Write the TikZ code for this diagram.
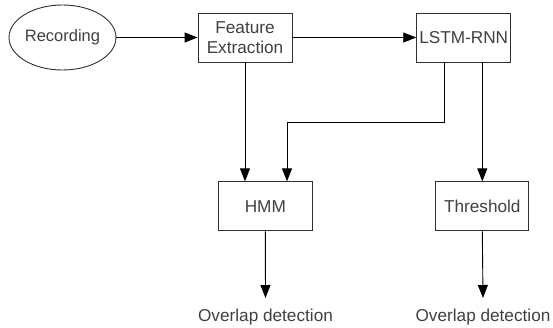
\documentclass[tikz,border=0pt]{standalone}
\usepackage{fontspec}
\setmainfont{Liberation Sans}
\usetikzlibrary{shapes.geometric,arrows.meta}
\definecolor{txt}{HTML}{404040}
\definecolor{brd}{HTML}{303030}
\begin{document}
\begin{tikzpicture}[x=1pt,y=-1pt,
  box/.style={draw=brd,line width=0.9pt,fill=white,text=txt,font=\fontsize{17.2}{20}\selectfont,inner sep=0pt,minimum height=49pt,align=center},
  oval/.style={ellipse,draw=brd,line width=0.9pt,text=txt,font=\fontsize{16.5}{20}\selectfont,inner sep=0pt,minimum width=107pt,minimum height=65pt},
  outtxt/.style={text=txt,font=\fontsize{17.2}{20}\selectfont,anchor=base,inner xsep=0pt,inner ysep=11.5pt,text height=12pt,text depth=3pt},
  conn/.style={draw=black,line width=0.9pt,-{Triangle[length=13pt,width=10pt]}}
]
\useasboundingbox (0,0) rectangle (553,327);
\node[oval] (rec) at (62.5,37.5) {Recording};
\node[box,minimum width=94pt] (fe) at (245,37.5) {Feature\\Extraction};
\node[box,minimum width=94pt] (lstm) at (463.7,37.5) {LSTM-RNN};
\node[box,minimum width=94pt] (hmm) at (265.3,206.3) {HMM};
\node[box,minimum width=93pt] (thr) at (482.3,206.3) {Threshold};
\node[outtxt] (o1) at (265.5,321.7) {Overlap detection};
\node[outtxt] (o2) at (483,321.7) {Overlap detection};
\coordinate (bend1) at (444.3,122);
\coordinate (bend2) at (287,122);
\draw[conn] (rec.east) -- (fe.west);
\draw[conn] (fe.east) -- (lstm.west);
\draw[conn] (fe.south) -- (fe.south |- hmm.north);
\draw[conn] (lstm.south -| bend1) -- (bend1) -- (bend2) -- (bend2 |- hmm.north);
\draw[conn] (lstm.south -| thr.north) -- (thr.north);
\draw[conn] (hmm.south) -- (o1.north);
\draw[conn] (thr.south) -- (o2.north);
\end{tikzpicture}
\end{document}
